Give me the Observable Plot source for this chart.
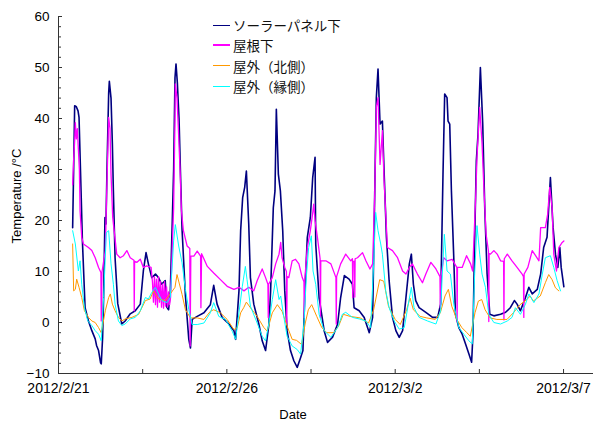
<!DOCTYPE html>
<html><head><meta charset="utf-8">
<script src="https://cdn.jsdelivr.net/npm/d3@7"></script>
<script src="https://cdn.jsdelivr.net/npm/@observablehq/plot@0.6"></script>
<style>
body{margin:0;background:#fff;}
#wrap{position:relative;width:593px;height:424px;font-family:"Liberation Sans",Arial,sans-serif;color:#000;}
#legend{position:absolute;left:213px;top:15px;font-family:"Noto Sans CJK JP",sans-serif;font-size:13.5px;color:#111;}
.row{display:flex;align-items:center;height:20.3px;}
.sw{display:inline-block;width:17px;margin-right:3px;}
#ytitle{position:absolute;left:16px;top:196px;transform:translate(-50%,-50%) rotate(-90deg);white-space:nowrap;font-size:13px;}
#xtitle{position:absolute;left:293px;top:414px;transform:translate(-50%,-50%);font-size:13px;}
</style></head>
<body><div id="wrap"><div id="ytitle">Temperature /°C</div><div id="xtitle">Date</div><div id="legend"></div></div>
<script>
// day offset from 2012/2/21 00:00, value in °C
const seriesNames = ["ソーラーパネル下","屋根下","屋外（北側）","屋外（縁側）"];
const seriesColors = ["#000080","#ff00ff","#ff9900","#00ffff"];
const xTickDays = [0,5,10,15];
const xTickLabels = ["2012/2/21","2012/2/26","2012/3/2","2012/3/7"];
const xMinorDays = [2.5,7.5,12.5];
const yMajor = [-10,0,10,20,30,40,50,60];

const solarPanel = [[0.42,18.6],[0.45,30],[0.48,42.5],[0.53,42.3],[0.58,41.5],[0.61,40.2],[0.67,25.8],[0.71,16],[0.79,2.9],[0.89,0.3],[0.99,-1.6],[1.09,-3.2],[1.13,-4.5],[1.19,-5.5],[1.25,-7.9],[1.27,-8.1],[1.31,-3],[1.34,5],[1.38,20.6],[1.41,19.3],[1.44,30],[1.49,45],[1.51,47.3],[1.56,44],[1.60,35],[1.63,25.8],[1.68,12.7],[1.76,3.7],[1.88,-0.3],[1.98,0.3],[2.13,1.7],[2.28,2.3],[2.43,3.6],[2.52,10.1],[2.60,13.7],[2.67,11.5],[2.77,8.8],[2.88,9.5],[2.97,8.8],[3.06,7.5],[3.17,8.2],[3.22,3],[3.27,2.5],[3.32,6],[3.38,20],[3.42,30],[3.46,48],[3.49,50.7],[3.53,47],[3.58,40],[3.62,30],[3.67,18.2],[3.77,5.2],[3.87,-3.3],[3.92,-5],[3.97,0.6],[4.12,1.2],[4.32,1.9],[4.51,3.5],[4.61,7.3],[4.71,3.6],[4.86,1],[5.06,-0.3],[5.21,-1.6],[5.26,-3.3],[5.36,6.2],[5.41,18],[5.47,24.5],[5.53,26.5],[5.58,29.7],[5.65,19.3],[5.70,8.8],[5.80,3.6],[5.95,-0.3],[6.05,-3.6],[6.15,-5.5],[6.25,-0.3],[6.30,6.2],[6.38,22.5],[6.43,25.8],[6.47,41.8],[6.53,29.1],[6.59,25.8],[6.66,18],[6.72,6.2],[6.79,-1.6],[6.89,-5.5],[6.99,-7.5],[7.09,-8.8],[7.19,-6.9],[7.26,-5.5],[7.32,6.2],[7.39,16.7],[7.48,20.6],[7.55,28.4],[7.62,32.4],[7.64,15.4],[7.74,4.9],[7.89,-1.6],[7.99,-3.9],[8.14,-2.9],[8.29,-0.3],[8.38,4.9],[8.49,9.2],[8.63,8.5],[8.73,7.5],[8.78,2.9],[8.93,2.3],[9.08,1],[9.23,-2],[9.33,1],[9.39,24.5],[9.44,44.1],[9.49,49.7],[9.55,38.9],[9.62,39.5],[9.67,29.7],[9.74,16.7],[9.82,8.2],[9.92,1],[10.02,-1.6],[10.12,-2.9],[10.22,-1.6],[10.32,4.9],[10.42,11.5],[10.48,13.4],[10.54,7.5],[10.61,4.3],[10.71,2.9],[10.91,2],[11.11,1],[11.26,1],[11.35,3.6],[11.40,21.9],[11.42,29.1],[11.47,44.8],[11.54,44.1],[11.57,39.5],[11.62,38.9],[11.67,25.8],[11.74,12.7],[11.79,1.6],[11.89,-1],[11.99,-2.3],[12.09,-4.2],[12.19,-6.2],[12.27,-7.8],[12.31,-2.3],[12.36,16],[12.41,31.7],[12.46,36.9],[12.53,50],[12.60,38.9],[12.66,22.5],[12.73,9.5],[12.81,1.6],[12.93,1.3],[13.13,1.6],[13.28,2],[13.42,2.9],[13.54,4.3],[13.62,3.6],[13.72,2.3],[13.87,4.9],[13.97,6.9],[14.07,5.6],[14.22,6.5],[14.32,9.5],[14.41,14.7],[14.51,16.7],[14.61,28.4],[14.69,18.6],[14.76,13.4],[14.83,10.8],[14.89,14.7],[14.93,10.8],[15.01,7]];

const underRoof = [[0.42,27],[0.45,32],[0.48,35.6],[0.50,39.2],[0.53,36],[0.56,38],[0.59,34],[0.62,30],[0.64,21.9],[0.69,16.7],[0.74,15.4],[0.89,14.7],[0.99,14.1],[1.09,12.7],[1.19,10.8],[1.26,9.8],[1.27,0.3],[1.29,9.8],[1.34,12],[1.39,14.1],[1.43,25],[1.49,40.2],[1.53,38],[1.56,29.1],[1.61,20.6],[1.73,13.4],[1.83,12.7],[1.93,13.1],[2.03,14.1],[2.13,12.7],[2.24,12.2],[2.25,2.3],[2.26,12],[2.33,11.8],[2.43,12.4],[2.52,10.8],[2.62,11.1],[2.75,10.8],[2.79,8],[2.82,4],[2.85,9],[2.88,3.5],[2.91,8.5],[2.94,3],[2.97,9],[3.00,4],[3.03,8],[3.06,3],[3.09,7.5],[3.12,2.8],[3.15,8],[3.18,3.2],[3.21,7],[3.24,3],[3.27,6],[3.30,3.5],[3.33,5],[3.38,15],[3.42,22.5],[3.46,40],[3.47,46.8],[3.52,44],[3.56,38],[3.61,30],[3.65,22],[3.71,18],[3.82,15],[3.90,14.5],[3.91,-4.6],[3.93,13],[4.02,13],[4.12,14],[4.22,13],[4.23,2.9],[4.25,13.5],[4.42,11],[4.61,9.7],[4.81,8.4],[5.01,7.1],[5.21,6.5],[5.36,6.9],[5.51,6.2],[5.65,6.9],[5.80,6.2],[5.90,8.2],[6.05,10.5],[6.15,8.8],[6.22,7.5],[6.23,1],[6.24,7.5],[6.35,8.8],[6.45,11.5],[6.55,13.4],[6.60,15.7],[6.64,12.7],[6.72,10.8],[6.77,10],[6.78,-0.3],[6.79,9],[6.84,8.8],[6.94,12.1],[7.04,12.4],[7.14,11.5],[7.24,8.8],[7.29,8],[7.30,1],[7.31,8],[7.39,14.7],[7.48,18],[7.56,22],[7.58,23.2],[7.62,20],[7.69,16.7],[7.77,12.5],[7.78,1],[7.79,12.1],[7.94,12.1],[8.09,11.5],[8.24,8.8],[8.25,-0.3],[8.26,9],[8.38,11.5],[8.53,13.4],[8.68,12.1],[8.73,12.5],[8.74,4.9],[8.75,12],[8.79,12],[8.80,5],[8.81,12.5],[8.88,12.7],[9.03,13.7],[9.13,12.1],[9.25,10.5],[9.33,11.5],[9.39,24.5],[9.44,42.2],[9.49,44.1],[9.55,31],[9.62,37.6],[9.67,27.8],[9.77,14.7],[9.92,14.1],[10.07,12.7],[10.22,10.1],[10.32,9.5],[10.42,10.8],[10.51,11.5],[10.66,9.5],[10.81,7.8],[10.91,9.5],[11.06,11.8],[11.21,10.5],[11.33,9],[11.34,2.9],[11.36,9],[11.44,12.7],[11.54,12.1],[11.69,12.4],[11.83,10.8],[11.84,0.2],[11.85,10.8],[11.99,10.8],[12.12,13.1],[12.24,11.5],[12.30,10.1],[12.39,24.5],[12.43,32.4],[12.51,42.2],[12.58,35],[12.63,27.1],[12.70,17.3],[12.77,14],[12.78,0.2],[12.79,13.5],[12.83,13.4],[12.93,14.1],[13.03,13.4],[13.13,12.1],[13.22,12],[13.23,0.5],[13.24,12.5],[13.33,13.4],[13.47,12.1],[13.62,10.8],[13.77,9.5],[13.81,9],[13.82,1],[13.83,9.5],[13.94,10.8],[14.07,14.1],[14.17,13.1],[14.27,12.1],[14.32,18.6],[14.46,18.6],[14.53,21.3],[14.59,26.5],[14.66,22.5],[14.71,13.4],[14.79,10.1],[14.86,14.7],[14.96,15.7],[15.01,16]];

const outdoorNorth = [[0.42,15.4],[0.45,6.2],[0.50,6.5],[0.54,8.5],[0.61,6.9],[0.69,4.9],[0.77,2.3],[0.89,1],[0.99,0.3],[1.09,0],[1.19,-1],[1.27,-2],[1.39,2.3],[1.49,4.9],[1.54,5.6],[1.60,3.6],[1.68,2.3],[1.78,1],[1.88,0.3],[1.98,0.7],[2.18,1],[2.38,1.6],[2.58,4.3],[2.72,4.6],[2.82,6.2],[2.97,4.6],[3.17,4.3],[3.32,5.6],[3.46,6.9],[3.52,9.4],[3.67,5.5],[3.77,2.5],[3.92,0.9],[4.12,0.9],[4.32,0.6],[4.51,2.2],[4.61,2.5],[4.81,1.9],[5.01,0.6],[5.21,-1.4],[5.31,-1],[5.41,1.9],[5.50,2.9],[5.58,4],[5.70,2.9],[5.90,1.2],[6.10,-1],[6.20,-1.7],[6.35,1.9],[6.50,3.5],[6.64,2.2],[6.79,-0.7],[6.94,-3.3],[7.07,-3.5],[7.22,-4.3],[7.33,-0.1],[7.42,2.5],[7.52,3.5],[7.67,1.2],[7.82,-1],[7.97,-2],[8.17,-2],[8.32,-0.7],[8.46,1.6],[8.66,1.2],[8.96,0.9],[9.21,-0.1],[9.36,2.5],[9.54,8.4],[9.66,8.1],[9.80,3.2],[10.00,0.6],[10.15,-0.4],[10.34,2.5],[10.44,4.8],[10.54,2.5],[10.74,1.2],[10.94,0.9],[11.19,0.6],[11.34,1.9],[11.48,5.2],[11.58,6.5],[11.68,3.2],[11.83,0.6],[11.98,-1],[12.13,-2],[12.23,-2.7],[12.37,1.9],[12.47,4.2],[12.57,4.5],[12.67,2.5],[12.82,0.9],[13.02,0.6],[13.32,0.6],[13.51,1.9],[13.71,3.5],[13.91,4.5],[14.01,5.2],[14.10,4.2],[14.31,5.2],[14.46,7.8],[14.56,9.4],[14.66,8.4],[14.76,6.8],[14.86,6.2]];

const outdoorVeranda = [[0.42,18],[0.50,15.4],[0.59,10.1],[0.64,12.1],[0.69,7.5],[0.77,2.9],[0.87,0.3],[0.99,-0.6],[1.09,-1.6],[1.19,-2.3],[1.27,-3.6],[1.34,4.9],[1.42,17.6],[1.49,18],[1.56,11.5],[1.63,7.5],[1.68,3.6],[1.78,0.3],[1.88,-0.6],[1.98,-0.3],[2.13,0.7],[2.28,1],[2.43,2.3],[2.58,4.9],[2.67,4.6],[2.77,5.9],[2.88,6.9],[2.97,5.6],[3.07,4.3],[3.22,3.9],[3.32,4.9],[3.42,16],[3.47,19.2],[3.57,15],[3.67,11.7],[3.77,6.5],[3.87,2.5],[3.97,-0.4],[4.12,-0.4],[4.32,-0.1],[4.51,1.9],[4.61,3.9],[4.76,1.2],[4.96,0.6],[5.16,-1.7],[5.26,-3.3],[5.36,1.9],[5.46,7.1],[5.55,11],[5.60,8.4],[5.70,3.2],[5.90,-0.1],[6.05,-2.7],[6.15,-3.6],[6.25,-0.1],[6.35,4.5],[6.45,8.4],[6.55,4.5],[6.60,5.2],[6.69,1.2],[6.79,-2.7],[6.94,-4.6],[7.09,-5.3],[7.19,-6.2],[7.29,-0.3],[7.36,8.8],[7.43,14.7],[7.51,17],[7.56,10.1],[7.64,7.5],[7.74,1.6],[7.89,-1.6],[8.09,-2.9],[8.29,-1],[8.43,1.6],[8.53,2],[8.73,1],[8.93,0.7],[9.13,0.3],[9.27,-1],[9.36,11.5],[9.42,21.6],[9.49,18],[9.57,15.4],[9.62,13.4],[9.72,6.2],[9.82,2.9],[9.97,0.3],[10.12,-1.3],[10.27,-1],[10.39,3.6],[10.48,6.9],[10.56,2.9],[10.71,1],[10.96,0.3],[11.21,-0.3],[11.35,2.3],[11.40,9.5],[11.46,17.3],[11.54,10.1],[11.64,9.5],[11.74,3.6],[11.89,-1],[12.04,-2.3],[12.19,-3.6],[12.29,-4.2],[12.36,9.5],[12.43,19],[12.51,13.4],[12.58,9.5],[12.68,6.9],[12.78,1.6],[12.93,0],[13.13,-0.3],[13.33,0.3],[13.47,1],[13.57,2.9],[13.72,1.6],[13.87,3.6],[13.97,5.6],[14.12,3.9],[14.27,5.6],[14.37,9.5],[14.46,12.7],[14.61,13.1],[14.71,10.8],[14.81,8.2],[14.91,6.2]];

const t0 = Date.UTC(2012,1,21);
const toDate = d => new Date(t0 + d*864e5);
const allSeries = [solarPanel, underRoof, outdoorNorth, outdoorVeranda];
const widths = [1.6, 1.3, 1, 1];
const swatchHeights = [1, 2, 1, 1];
const tickLabelMap = new Map(xTickDays.map((d,i)=>[+toDate(d), xTickLabels[i]]));
const yMinor = d3.range(-10, 61, 2).filter(v => v % 10 !== 0);

const lineMarks = allSeries.map((s, i) =>
  Plot.line(s.map(([d,v]) => ({date: toDate(d), value: v})), {x:"date", y:"value", stroke: seriesColors[i], strokeWidth: widths[i], strokeLinejoin:"round"})
);

const chart = Plot.plot({
  width: 593, height: 424,
  marginLeft: 58, marginRight: 0, marginTop: 16, marginBottom: 51,
  style: {fontSize: "13px", fontFamily: "Liberation Sans, Arial, sans-serif", background: "white", color: "black", overflow: "visible"},
  x: {type: "utc", domain: [toDate(0), toDate(15.89)]},
  y: {domain: [-10, 60]},
  marks: [
    Plot.axisY(yMajor, {tickSize: -4, tickPadding: 13, label: null, stroke: "#333", fontSize: 13.5}),
    Plot.axisY(yMinor, {tickSize: -3, label: null, tickFormat: () => "", stroke: "#333"}),
    Plot.axisX(xTickDays.map(toDate), {tickSize: -4, tickPadding: 14, label: null, stroke: "#333", fontSize: 14, letterSpacing: "0.5px", tickFormat: d => tickLabelMap.get(+d)}),
    Plot.axisX(xMinorDays.map(toDate), {tickSize: -4, label: null, stroke: "#333", tickFormat: () => ""}),
    ...lineMarks,
    Plot.ruleX([toDate(0)], {y1: -10, y2: 60, stroke: "#333"}),
    Plot.ruleY([-10], {stroke: "#333"})
  ]
});
const wrap = document.getElementById("wrap");
wrap.insertBefore(chart, wrap.firstChild);

const legend = document.getElementById("legend");
seriesNames.forEach((n, i) => {
  const row = document.createElement("div"); row.className = "row";
  const sw = document.createElement("span"); sw.className = "sw";
  sw.style.background = seriesColors[i]; sw.style.height = swatchHeights[i] + "px";
  const tx = document.createElement("span"); tx.textContent = n;
  row.appendChild(sw); row.appendChild(tx); legend.appendChild(row);
});
</script></body></html>
